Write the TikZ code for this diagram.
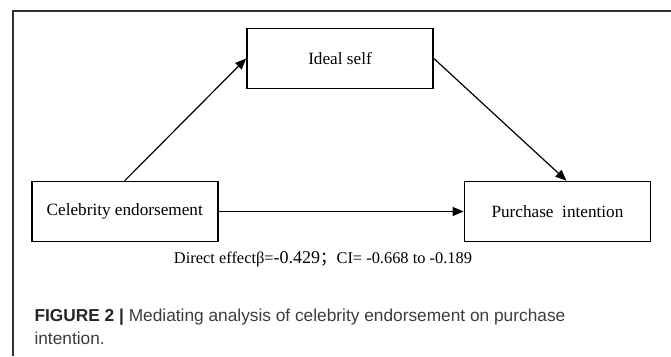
\documentclass[tikz,border=0pt]{standalone}
\usepackage{fontspec}
\setmainfont{Liberation Serif}
\newfontfamily\capfont{Liberation Sans}
\newfontfamily\cjk{Noto Sans CJK SC}
\usepackage{xcolor}
\usetikzlibrary{arrows.meta, positioning}
\definecolor{framegray}{HTML}{333333}
\definecolor{capgray}{HTML}{3C3C3C}
\tikzset{
  box/.style={rectangle, draw, line width=1.7pt, minimum height=60pt, minimum width=186pt, align=center, font=\fontsize{17.2}{20}\selectfont},
  arrow/.style={-{Triangle[length=11pt, width=9pt]}, line width=1.2pt},
  caption/.style={anchor=base west, text=capgray, font=\capfont\fontsize{17.3}{22}\selectfont},
}

\begin{document}
\begin{tikzpicture}[x=1pt, y=-1pt]
    \useasboundingbox (0,0) rectangle (671,356);
    \draw[framegray, line width=1.2pt] (671,11) -- (13,11) -- (13,356);
    \node[box] (celeb) at (124.75,211.5) {Celebrity endorsement};
    \node[box, right=245pt of celeb] (purchase) {Purchase\ \ intention};
    \node[box] (ideal) at (340,58.5) {Ideal self};
    \draw[arrow] (celeb.north) -- (ideal.west);
    \draw[arrow] (ideal.east) -- ([xshift=9pt]purchase.north);
    \draw[arrow] (celeb.east) -- (purchase.west);
    \node[font=\fontsize{16.4}{18}\selectfont] (direct) at (323,259) {Direct effectβ={\fontsize{18}{18}\selectfont -0.429}{\cjk ；}CI= -0.668 to -0.189};
    \node[caption] (capline) at (31,321) {\textbf{\color{black!85}FIGURE 2 |} Mediating analysis of celebrity endorsement on purchase};
    \node[caption] (captail) at (31,344) {intention.};
  \end{tikzpicture}
\end{document}
